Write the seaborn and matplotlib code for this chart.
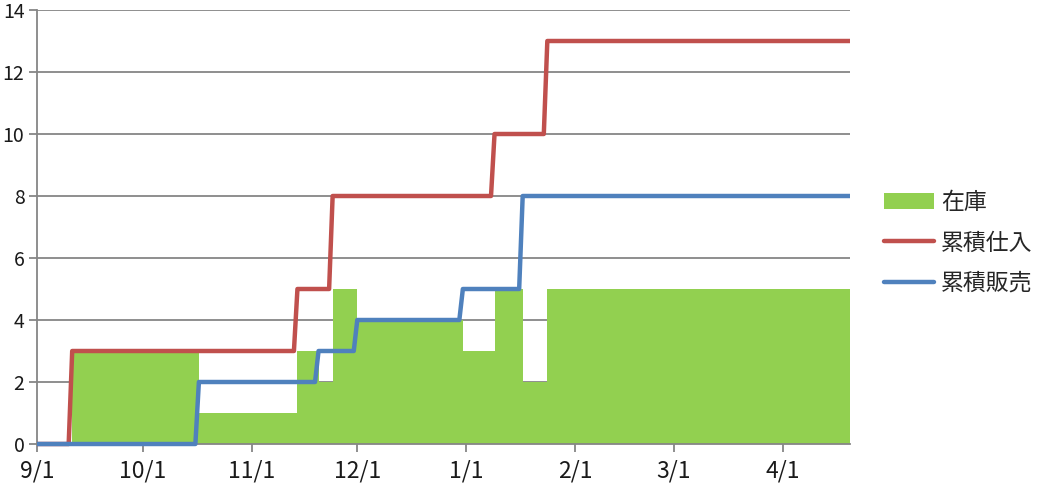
import numpy as np
import pandas as pd
import matplotlib
matplotlib.use("Agg")
import matplotlib.pyplot as plt
import seaborn as sns
from matplotlib.patches import Patch
from matplotlib.lines import Line2D

# Cumulative purchases: date of each delivery and running total after it
purchase_dates = ["2012-09-11", "2012-11-14", "2012-11-24", "2013-01-09", "2013-01-24"]
purchase_totals = [3, 5, 8, 10, 13]

# Cumulative sales: date of each sale and running total after it
sales_dates = ["2012-10-17", "2012-11-20", "2012-12-01", "2012-12-31", "2013-01-17"]
sales_totals = [2, 3, 4, 5, 8]

period_start = "2012-09-01"
period_end = "2013-04-20"

tick_dates = ["2012-09-01", "2012-10-01", "2012-11-01", "2012-12-01",
              "2013-01-01", "2013-02-01", "2013-03-01", "2013-04-01"]
tick_labels = ["9/1", "10/1", "11/1", "12/1", "1/1", "2/1", "3/1", "4/1"]
y_ticks = [0, 2, 4, 6, 8, 10, 12, 14]

series_names = ["在庫", "累積仕入", "累積販売"]
GREEN = "#92D050"
RED = "#C0504D"
BLUE = "#4F81BD"
GRID = "#868686"

sns.set_style("white")
plt.rcParams["font.family"] = ["Noto Sans CJK JP", "DejaVu Sans"]

days = pd.date_range(period_start, period_end, freq="D")


def running_total(dates, totals):
    s = pd.Series(0.0, index=days)
    for d, t in zip(pd.to_datetime(dates), totals):
        s[s.index >= d] = t
    return s


purchases = running_total(purchase_dates, purchase_totals)
sales = running_total(sales_dates, sales_totals)
stock = purchases - sales

df = pd.DataFrame({"date": days, "purchases": purchases.values,
                   "sales": sales.values, "stock": stock.values})

fig = plt.figure(figsize=(10.37, 4.91), dpi=100)
ax = fig.add_axes([37 / 1037, 47 / 491, 813 / 1037, 434 / 491])

# Stock on hand as a stepped area
ax.fill_between(df["date"], df["stock"], step="post", color=GREEN,
                linewidth=0, zorder=2)

sns.lineplot(data=df, x="date", y="purchases", ax=ax, color=RED, lw=3.2,
             zorder=3, clip_on=False, solid_capstyle="butt")
sns.lineplot(data=df, x="date", y="sales", ax=ax, color=BLUE, lw=3.2,
             zorder=4, clip_on=False, solid_capstyle="butt")

ax.set_xlim(pd.Timestamp(period_start), pd.Timestamp(period_end))
ax.set_ylim(0, 14)
ax.set_xlabel("")
ax.set_ylabel("")

ax.set_xticks(pd.to_datetime(tick_dates))
ax.set_xticklabels(tick_labels)
ax.set_yticks(y_ticks)
ax.set_yticklabels([str(v) for v in y_ticks])

ax.set_axisbelow(True)
ax.yaxis.grid(True, color=GRID, linewidth=1.3)
ax.xaxis.grid(False)

for side in ("top", "right"):
    ax.spines[side].set_visible(False)
for side in ("left", "bottom"):
    ax.spines[side].set_color(GRID)
    ax.spines[side].set_linewidth(1.3)

ax.tick_params(axis="x", direction="out", length=6, width=1.3, color=GRID,
               labelsize=16.5, labelcolor="#1a1a1a", pad=5, bottom=True)
ax.tick_params(axis="y", direction="out", length=6, width=1.3, color=GRID,
               labelsize=14, labelcolor="#1a1a1a", pad=3, left=True)

handles = [
    Patch(facecolor=GREEN, edgecolor="none"),
    Line2D([], [], color=RED, lw=3.2, solid_capstyle="round"),
    Line2D([], [], color=BLUE, lw=3.2, solid_capstyle="round"),
]
ax.legend(handles, series_names, loc="center left",
          bbox_to_anchor=(884 / 1037, 1 - 243 / 491),
          bbox_transform=fig.transFigure, frameon=False, fontsize=16.5,
          handlelength=2.2, handletextpad=0.3, labelspacing=0.75,
          borderpad=0, borderaxespad=0)

fig.savefig("out.png", dpi=100)
